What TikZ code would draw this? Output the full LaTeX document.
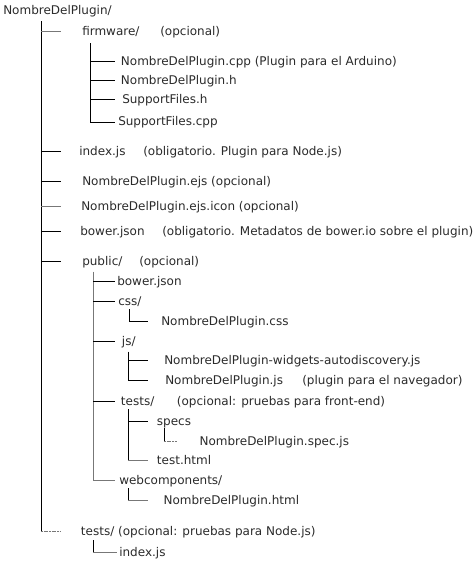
\documentclass[tikz,border=0pt]{standalone}
\usepackage{fontspec}
\setmainfont{DejaVu Sans}
\definecolor{txt}{HTML}{2A2A2A}
\definecolor{ln}{HTML}{000000}
\definecolor{lg}{HTML}{777777}
\begin{document}
\begin{tikzpicture}[x=0.75pt,y=-0.75pt,
  item/.style={anchor=base west,inner sep=0pt,text=txt,font=\fontsize{9pt}{11pt}\selectfont},
  spine/.style={draw=ln,line width=0.7pt},
  branch/.style={draw=ln,line width=0.7pt},
  greybranch/.style={draw=lg,line width=0.75pt},
  dotbranch/.style={draw=lg,line width=0.75pt,dash pattern=on 1.5pt off 0.5pt}]
\useasboundingbox (0,0) rectangle (476,562);
\def\bl{4.2}
% nodes
\node[item] (root) at (3,10+\bl) {NombreDelPlugin/};
\node[item] (fw) at (82,31.7+\bl) {firmware/};
\node[item] (fwo) at (160,31.7+\bl) {(opcional)};
\node[item] (cpp) at (120.7,61.5+\bl) {NombreDelPlugin.cpp (Plugin para el Arduino)};
\node[item] (hh) at (120.7,80.5+\bl) {NombreDelPlugin.h};
\node[item] (sfh) at (122,99.5+\bl) {SupportFiles.h};
\node[item] (sfc) at (118,121+\bl) {SupportFiles.cpp};
\node[item] (idx) at (79,151.7+\bl) {index.js};
\node[item] (idxo) at (143,151.7+\bl) {(obligatorio. Plugin para Node.js)};
\node[item] (ejs) at (82,181.7+\bl) {NombreDelPlugin.ejs (opcional)};
\node[item] (icon) at (81,206+\bl) {NombreDelPlugin.ejs.icon (opcional)};
\node[item] (bw) at (80,231+\bl) {bower.json};
\node[item] (bwo) at (162,231+\bl) {(obligatorio. Metadatos de bower.io sobre el plugin)};
\node[item] (pub) at (82,261.7+\bl) {public/};
\node[item] (pubo) at (139,261.7+\bl) {(opcional)};
\node[item] (pbw) at (117,281.7+\bl) {bower.json};
\node[item] (css) at (118,301.7+\bl) {css/};
\node[item] (cssf) at (161,321.7+\bl) {NombreDelPlugin.css};
\node[item] (js) at (121.7,341.7+\bl) {js/};
\node[item] (wid) at (164,360.7+\bl) {NombreDelPlugin-widgets-autodiscovery.js};
\node[item] (pjs) at (165,380+\bl) {NombreDelPlugin.js};
\node[item] (pjso) at (302,380+\bl) {(plugin para el navegador)};
\node[item] (tst) at (120.7,401.7+\bl) {tests/};
\node[item] (tsto) at (176.7,401.7+\bl) {(opcional: pruebas para front-end)};
\node[item] (spc) at (156.7,421.7+\bl) {specs};
\node[item] (spcf) at (199.3,441.7+\bl) {NombreDelPlugin.spec.js};
\node[item] (th) at (156.7,460.7+\bl) {test.html};
\node[item] (wc) at (119,480.7+\bl) {webcomponents/};
\node[item] (wch) at (163.3,500+\bl) {NombreDelPlugin.html};
\node[item] (mt) at (80.7,531.7+\bl) {tests/ (opcional: pruebas para Node.js)};
\node[item] (mti) at (119,552.7+\bl) {index.js};
% main spine
\coordinate (s0) at (41,21);
\draw[spine] (s0) -- (41,531.7);
\draw[greybranch] (41,31.7) -- (61,31.7);
\foreach \y in {151.7,181.7,231,261.7}{\draw[branch] (41,\y) -- (61,\y);}
\draw[greybranch] (41,206) -- (61,206);
\draw[dotbranch] (41,531.7) -- (61,531.7);
% firmware
\draw[branch] (90.7,43) -- (90.7,122.7) -- (115,122.7);
\foreach \y in {61.7,80.5,99.5}{\draw[branch] (90.7,\y) -- (115,\y);}
% public
\draw[spine,draw=lg] (93,271.7) -- (93,480.7) -- (115,480.7);
\foreach \y in {281.7,301.7,341.7,401.7}{\draw[branch] (93,\y) -- (115,\y);}
% css
\draw[branch] (129,309) -- (129,321.7) -- (148,321.7);
% js
\draw[branch] (128,351.7) -- (128,380) -- (148,380);
\draw[branch] (128,360.7) -- (148,360.7);
% tests
\draw[branch] (128,409) -- (128,460.7);
\draw[greybranch] (128,460.7) -- (148,460.7);
\draw[branch] (128,421.7) -- (148,421.7);
% specs
\draw[branch] (164,428) -- (164,441.7);
\draw[dotbranch] (164,441.7) -- (176.7,441.7);
% webcomponents
\draw[branch] (128,488) -- (128,500);
\draw[greybranch] (128,500) -- (148,500);
% main tests
\draw[branch] (93,540) -- (93,552.7);
\draw[greybranch] (93,552.7) -- (117,552.7);
\end{tikzpicture}
\end{document}
